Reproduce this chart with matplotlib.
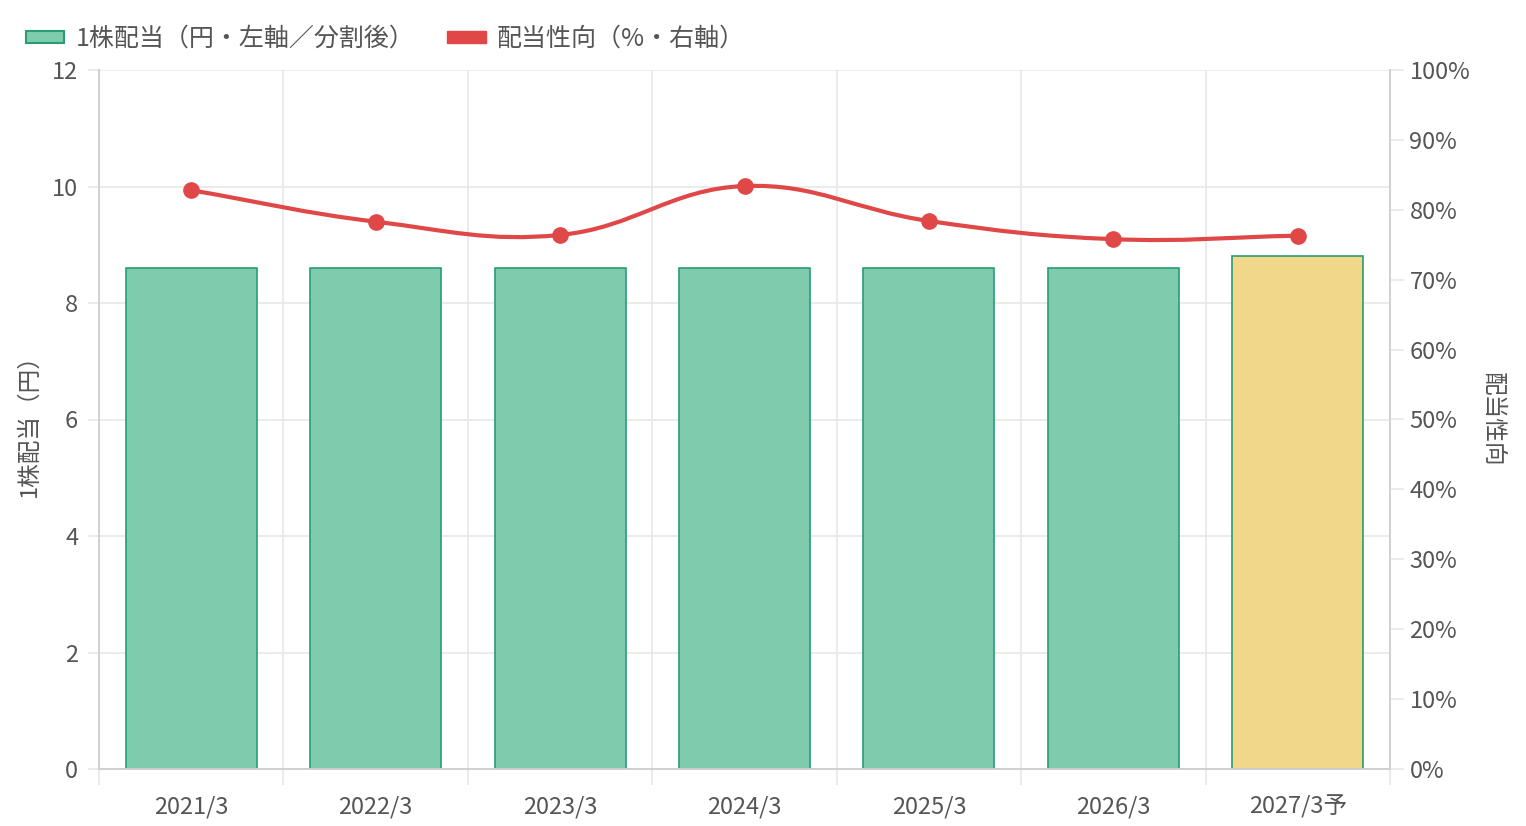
import matplotlib
matplotlib.use("Agg")
import matplotlib.pyplot as plt
import numpy as np
from matplotlib.path import Path
from matplotlib.patches import PathPatch, Patch

plt.rcParams['font.family'] = ['Noto Sans CJK JP', 'DejaVu Sans']

# データ
labels = ["2021/3", "2022/3", "2023/3", "2024/3", "2025/3", "2026/3", "2027/3予"]
dividend = [8.6, 8.6, 8.6, 8.6, 8.6, 8.6, 8.8]
payout = [82.8, 78.3, 76.4, 83.4, 78.4, 75.8, 76.3]
forecast = [False, False, False, False, False, False, True]

txt = '#555555'
grid = '#e8e8e6'
axc = '#d0d0d0'
fs = 17

fig = plt.figure(figsize=(15.26, 8.26), dpi=100)
ax = fig.add_axes([99/1526, 1-769/826, 1291/1526, 699/826])
ax2 = ax.twinx()

x = np.arange(len(labels))
cols = ['#f0d78a' if f else '#7fcbad' for f in forecast]
ax.bar(x, dividend, width=0.71, color=cols, edgecolor='#2a9d74', linewidth=1.2, zorder=2)

ax.set_xlim(-0.5, len(labels) - 0.5)
ax.set_ylim(0, 12)
ax.set_yticks(range(0, 13, 2))
ax.set_xticks(x)
ax.set_xticklabels(labels)
ax.set_xticks(np.arange(-0.5, len(labels)), minor=True)
ax.tick_params(axis='x', which='major', length=0, pad=19, labelsize=fs, labelcolor=txt)
ax.tick_params(axis='x', which='minor', length=11.5, color=grid, width=1.2)
ax.tick_params(axis='y', length=8, color=grid, width=1.2, labelsize=fs, labelcolor=txt, pad=7)
ax.grid(True, axis='y', color=grid, linewidth=1.2, zorder=0)
ax.grid(True, axis='x', which='minor', color=grid, linewidth=1.2, zorder=0)
ax.set_axisbelow(True)
ax.set_ylabel('1株配当（円）', color=txt, fontsize=fs, labelpad=8)

for a in (ax, ax2):
    a.spines['top'].set_visible(False)
    for s in ('left', 'right', 'bottom'):
        a.spines[s].set_color(axc)
        a.spines[s].set_linewidth(1.2)

ax2.set_ylim(0, 100)
ax2.set_yticks(range(0, 101, 10))
ax2.set_yticklabels([f'{v}%' for v in range(0, 101, 10)])
ax2.tick_params(axis='y', length=10, color=grid, width=1.2, labelsize=fs, labelcolor=txt, pad=4)
ax2.set_ylabel('配当性向', color=txt, fontsize=fs, rotation=270, labelpad=24)

# なめらかな線 (tension 0.4)
sx = 1291 / len(labels)
sy = 699 / 100
px = x * sx
py = np.array(payout) * sy
t = 0.4
n = len(px)
cpl = []
cpr = []
for i in range(n):
    p0 = (px[max(i-1, 0)], py[max(i-1, 0)])
    p1 = (px[i], py[i])
    p2 = (px[min(i+1, n-1)], py[min(i+1, n-1)])
    d01 = np.hypot(p1[0]-p0[0], p1[1]-p0[1])
    d12 = np.hypot(p2[0]-p1[0], p2[1]-p1[1])
    s01 = d01 / (d01 + d12) if d01 + d12 else 0
    s12 = d12 / (d01 + d12) if d01 + d12 else 0
    fa, fb = t * s01, t * s12
    cpl.append((p1[0] - fa*(p2[0]-p0[0]), p1[1] - fa*(p2[1]-p0[1])))
    cpr.append((p1[0] + fb*(p2[0]-p0[0]), p1[1] + fb*(p2[1]-p0[1])))
verts = [(px[0]/sx, py[0]/sy)]
codes = [Path.MOVETO]
for i in range(n-1):
    verts += [(cpr[i][0]/sx, cpr[i][1]/sy), (cpl[i+1][0]/sx, cpl[i+1][1]/sy), (px[i+1]/sx, py[i+1]/sy)]
    codes += [Path.CURVE4] * 3
ax2.add_patch(PathPatch(Path(verts, codes), facecolor='none', edgecolor='#e04848', linewidth=3, zorder=3))
ax2.plot(x, payout, 'o', color='#e04848', markersize=11, zorder=4)

handles = [Patch(facecolor='#7fcbad', edgecolor='#2a9d74', linewidth=1.5),
           Patch(facecolor='#e04848', edgecolor='#e04848')]
fig.legend(handles, ['1株配当（円・左軸／分割後）', '配当性向（%・右軸）'],
           loc='upper left', bbox_to_anchor=(0.002, 0.996), ncol=2, frameon=False,
           fontsize=18, labelcolor=txt, handlelength=1.55, handleheight=0.4,
           columnspacing=1.3, handletextpad=0.45)

fig.savefig('out.png', dpi=100, facecolor='white')
